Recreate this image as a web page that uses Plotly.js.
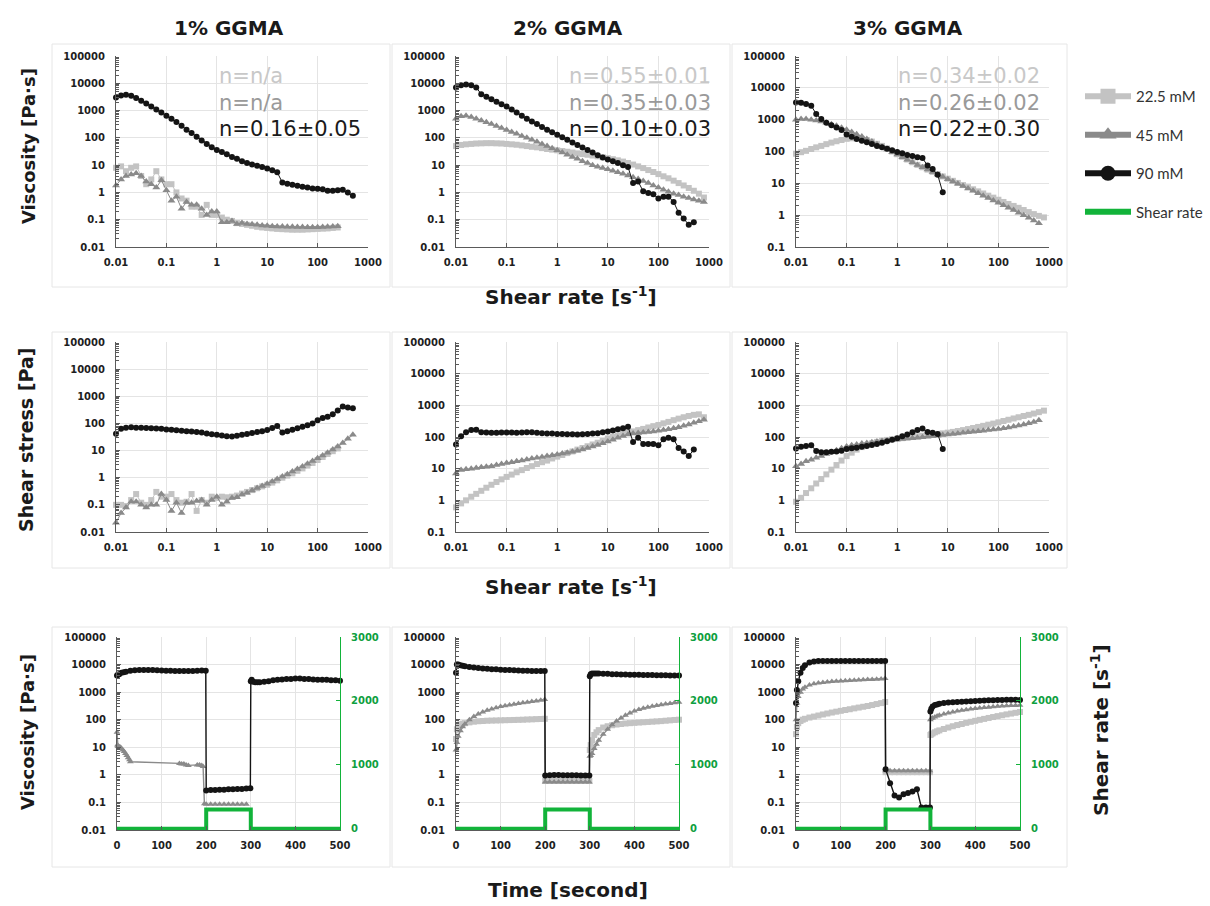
<!DOCTYPE html>
<html><head><meta charset="utf-8">
<script src="https://cdn.plot.ly/plotly-3.0.1.min.js"></script>
<style>html,body{margin:0;padding:0;background:#fff}</style>
</head><body><div id="chart" style="width:1210px;height:906px"></div>
<script>
// ---------------- DATA ----------------
const COL_TITLES = ['1% GGMA','2% GGMA','3% GGMA'];
const SERIES_NAMES = ['22.5 mM','45 mM','90 mM','Shear rate'];
const N_22 = ['n=n/a','n=0.55±0.01','n=0.34±0.02'];
const N_45 = ['n=n/a','n=0.35±0.03','n=0.26±0.02'];
const N_90 = ['n=0.16±0.05','n=0.10±0.03','n=0.22±0.30'];

const X_TICKS = [0.01,0.1,1,10,100,1000];
const X_TICK_TEXT = ['0.01','0.1','1','10','100','1000'];
const Y_TICKS = [0.01,0.1,1,10,100,1000,10000,100000];
const Y_TICK_TEXT = ['0.01','0.1','1','10','100','1000','10000','100000'];
const T_TICKS = [0,100,200,300,400,500];
const T_TICK_TEXT = ['0','100','200','300','400','500'];
const R_TICKS = [0,1000,2000,3000];
const R_TICK_TEXT = ['0','1000','2000','3000'];

// shear rate [1/s] of the sweeps
const RATE = [0.01,0.0126,0.0158,0.02,0.0251,0.0316,0.0398,0.0501,0.0631,0.0794,
  0.1,0.126,0.158,0.2,0.251,0.316,0.398,0.501,0.631,0.794,
  1,1.26,1.58,2,2.51,3.16,3.98,5.01,6.31,7.94,
  10,12.6,15.8,20,25.1,31.6,39.8,50.1,63.1,79.4,
  100,126,158,200,251,316,398,501,631,794];

// viscosity [Pa.s] vs shear rate
const VISC_1_22 = [8,9,6,8,9,4,2,3,6,3, 2,2,1,0.6,0.5,0.3,0.3,0.15,0.35,0.15, 0.15,0.12,0.1,0.09,0.075,0.07,0.065,0.06,0.055,0.052, 0.05,0.048,0.046,0.045,0.044,0.043,0.043,0.043,0.044,0.045, 0.046,0.047,0.048,0.05,0.052];
const VISC_1_45 = [1.8,3,4,4.5,5,4,2.5,2,1.5,2.8, 1.2,0.5,0.7,0.25,0.45,0.35,0.35,0.25,0.15,0.2, 0.2,0.08,0.08,0.09,0.07,0.075,0.07,0.068,0.065,0.062, 0.06,0.058,0.057,0.056,0.055,0.055,0.054,0.054,0.053,0.053, 0.053,0.054,0.055,0.056,0.058];
const VISC_1_90 = [3000,3600,3800,3500,2900,2300,1800,1400,1100,850, 650,500,380,280,200,150,110,80,60,45, 36,30,25,20,17,14,12,10.5,9.5,8.5, 7.5,6.5,5.5,2.3,2.1,1.9,1.75,1.6,1.5,1.4, 1.35,1.3,1.15,1.15,1.2,1.25,1.0,0.75];

const VISC_2_22 = [50,55,58,60,62,63,64,64,63,62, 60,58,56,53,50,47,45,42,39,37, 35,33,31,29,27,25.5,24,22.5,21,19.5, 18,16.5,15,13.5,12,10.5,9,7.8,6.6,5.6, 4.7,3.9,3.3,2.7,2.2,1.8,1.45,1.15,0.9,0.65];
const VISC_2_45 = [500,620,650,580,500,430,370,320,270,230, 195,165,140,118,100,85,72,60,50,42, 35,29,24,20,17,14,12,10,8.8,7.8, 7,6.2,5.5,4.8,4.2,3.6,3.1,2.6,2.2,1.8, 1.5,1.25,1.05,0.9,0.8,0.7,0.62,0.55,0.5,0.45];
const VISC_2_90 = [7000,8500,9000,8500,7000,4000,3200,2600,2100,1700, 1400,1100,850,650,500,400,320,250,200,160, 130,105,85,68,55,44,36,29,23,19, 16,14,12,10,8.5,2.2,2.5,1.1,0.95,0.85, 0.6,0.7,0.7,0.45,0.18,0.11,0.066,0.08];

const VISC_3_22 = [85,95,105,120,135,150,170,190,210,230, 250,260,260,250,230,205,175,150,125,100, 82,68,56,46,38,32,27,23,19.5,16.5, 14,12,10.3,8.8,7.6,6.5,5.6,4.8,4.1,3.55, 3.05,2.6,2.25,1.95,1.7,1.45,1.25,1.08,0.95,0.85];
const VISC_3_45 = [1000,1050,1050,1000,950,880,800,720,640,560, 480,410,350,295,245,205,170,140,115,95, 80,66,55,46,38,32,27,22.5,19,16, 13.5,11.5,9.7,8.2,6.9,5.8,4.9,4.1,3.45,2.9, 2.45,2.05,1.72,1.45,1.2,1.0,0.83,0.68,0.56];
const VISC_3_90 = [3470,3400,3100,2750,1500,1040,800,670,570,470, 345,293,247,219,195,171,148,135,123,109, 97,88,78,72,66,62,36,28,18.5,5.2];

// shear stress [Pa] vs shear rate
const STRESS_1_22 = [0.1,0.1,0.09,0.15,0.25,0.12,0.1,0.15,0.3,0.2, 0.2,0.25,0.15,0.12,0.13,0.25,0.06,0.15,0.12,0.2, 0.18,0.2,0.19,0.2,0.22,0.26,0.3,0.35,0.41,0.48, 0.55,0.66,0.8,1.0,1.2,1.45,1.8,2.2,2.8,3.5, 4.5,5.8,7.5,9.5,12];
const STRESS_1_45 = [0.022,0.05,0.08,0.13,0.13,0.1,0.08,0.1,0.1,0.25, 0.15,0.06,0.12,0.05,0.12,0.12,0.14,0.15,0.1,0.15, 0.2,0.1,0.13,0.18,0.19,0.24,0.28,0.34,0.42,0.5, 0.6,0.73,0.9,1.1,1.35,1.7,2.1,2.6,3.3,4.1, 5.2,6.6,8.4,11,14,19,27,38];
const STRESS_1_90 = [42,64,70,72,70,69,68,66,65,64, 60,58,56,54,52,50,48,46,43,40, 38,36,34,33,35,38,41,44,48,52, 57,68,80,46,52,58,66,75,85,100, 130,160,175,220,300,420,390,360];

const STRESS_2_22 = [0.6,0.8,1.0,1.3,1.6,2.0,2.5,3.1,3.8,4.6, 5.5,6.5,7.7,9,10.5,12,14,16,18,21, 24,27,31,35,40,45,51,58,66,75, 90,100,112,125,138,150,165,180,200,220, 240,270,300,340,380,420,460,500,520,420];
const STRESS_2_45 = [7,9,9.5,10,10.5,11,11.5,12,13,14, 15,16,17,18,19.5,21,22,23.5,25,26.5, 28,30,32,34,37,40,45,50,56,63, 72,82,95,108,120,128,134,139,144,150, 158,166,176,190,205,225,250,280,315,350];
const STRESS_2_90 = [58,105,140,165,170,140,138,137,137,138, 138,138,137,138,140,140,135,132,130,128, 125,124,122,122,121,122,125,128,132,140, 150,160,175,190,210,70,95,60,60,60, 55,85,95,85,45,35,25,40];

const STRESS_3_22 = [0.9,1.2,1.7,2.4,3.4,4.7,6.6,9.3,13,18, 25,32,40,48,56,63,70,76,81,85, 88,92,96,100,105,110,115,120,125,130, 137,145,155,165,178,192,208,225,245,265, 290,320,350,385,420,460,500,550,610,680];
const STRESS_3_45 = [12,14,17,19,22,25,29,33,38,44, 50,55,58,62,65,68,72,75,78,80, 83,86,89,92,95,98,102,106,110,115, 120,125,130,135,140,146,152,158,165,172, 180,190,200,215,230,250,270,300,340];
const STRESS_3_90 = [43,49,52,55,36,33,33,34,35,37, 42,44,46,49,52,56,60,66,73,82, 92,105,120,140,165,185,145,135,125,42];

// time sweeps [s]
const TIME = [0,2,5,10,15,20,30,40,50,60,70,80,90,100,110,120,130,140,150,160,170,180,190,199,
  200,210,220,230,240,250,260,270,280,290,299,
  300,302,305,310,315,320,330,340,350,360,370,380,390,400,410,420,430,440,450,460,470,480,490,500];
const TIME_1_45 = [0,1,2,3,5,8,10,13,16,19,22,25,28,30,140,145,150,155,160,180,185,190,193,196,200,210,220,230,240,250,260,270,280,290];

const TV_1_45 = [35,12,11,11,10.5,10,9,8,7,6,5,4.2,3.5,3, 2.6,2.5,2.5,2.3,2.2, 2.3,2.3,2.2,2.0,0.09, 0.085,0.085,0.085,0.085,0.085,0.085,0.085,0.085,0.085,0.085];
const TV_1_90 = [4000,4300,4500,5000,5300,5500,6000,6200,6300,6400,6300,6300,6200,6100,6000,6000,5900,5800,5800,5900,5900,6000,6100,6000,
  0.27,0.28,0.28,0.29,0.29,0.3,0.3,0.31,0.31,0.32,0.33,
  2500,2800,2400,2300,2300,2300,2400,2500,2700,2800,2900,3000,3000,3100,3100,3000,3000,2900,2800,2800,2800,2700,2700,2600];

const TV_2_22 = [20,45,60,68,72,75,80,85,88,90,92,93,94,95,96,97,98,99,100,102,103,105,106,108,
  0.6,0.6,0.6,0.6,0.6,0.6,0.6,0.6,0.6,0.6,0.6,
  8,12,18,28,35,42,52,58,63,67,70,73,75,77,79,81,83,85,87,89,92,95,98,100];
const TV_2_45 = [8,15,25,40,55,70,100,130,160,190,220,245,270,300,320,345,365,385,410,430,455,480,510,540,
  0.55,0.55,0.55,0.55,0.55,0.55,0.55,0.55,0.55,0.55,0.55,
  4.7,5,6,9,13,18,30,45,65,90,115,145,175,205,235,260,285,310,330,350,370,390,410,430];
const TV_2_90 = [5000,10000,10000,9500,9000,8700,8200,7800,7500,7200,7000,6800,6700,6500,6400,6300,6200,6100,6000,6000,5900,5900,5800,5800,
  0.95,0.97,0.98,0.98,0.97,0.97,0.96,0.96,0.95,0.95,0.95,
  3800,4500,4700,4700,4700,4700,4600,4600,4500,4500,4400,4400,4300,4300,4300,4200,4200,4200,4100,4100,4100,4000,4000,4000];

const TV_3_22 = [30,55,75,90,100,108,120,130,142,155,168,182,196,210,225,240,258,276,295,315,340,370,400,440,
  1.25,1.25,1.25,1.25,1.25,1.25,1.25,1.25,1.25,1.25,1.25,
  28,30,32,35,38,41,46,52,58,64,70,77,84,91,99,107,116,125,135,145,156,167,178,190];
const TV_3_45 = [100,400,700,1000,1300,1500,1800,2000,2150,2250,2350,2450,2500,2550,2600,2650,2700,2750,2800,2850,2900,2950,3000,3100,
  1.4,1.4,1.4,1.4,1.4,1.4,1.4,1.4,1.4,1.4,1.4,
  100,110,115,125,135,145,160,175,190,205,220,232,245,255,265,275,285,295,305,312,320,325,330,335];
const TV_3_90 = [400,1200,2500,5000,7500,9500,12000,13000,13500,13500,13500,13500,13500,13500,13500,13500,13500,13500,13500,13500,13500,13500,13500,13500,
  1.6,0.5,0.18,0.15,0.2,0.22,0.25,0.3,0.065,0.065,0.065,
  200,250,300,340,360,380,400,420,430,440,450,460,470,480,490,500,505,510,515,520,525,530,530,520];

// applied shear rate [1/s]
const SR_TIME = [0,200,200,300,300,500];
const SR_VALUE = [0,0,300,300,0,0];

// ---------------- STYLE / LAYOUT ----------------
const W = 1210, H = 906;
const px = v => v / W, py = v => 1 - v / H;
const C22 = '#c3c3c3', C45 = '#8a8a8a', C90 = '#141414', CG = '#12b33a', CGT = '#0ea040';
const AXC = '#5a5a5a', GRID = '#e4e4e4';
const TF = {family:'DejaVu Sans', size:10, color:'#1e1e1e', weight:'bold'};

const STY = {
  c22:{color:C22, symbol:'square', size:6},
  c45:{color:C45, symbol:'triangle-up', size:7},
  c90:{color:C90, symbol:'circle', size:6}
};

const traces = [];
function sweep(x, y, s, xa, ya, msize, lw) {
  traces.push({x:x.slice(0, y.length), y:y, xaxis:xa, yaxis:ya, type:'scatter', mode:'lines+markers',
    line:{color:s.color, width:lw||1}, marker:{color:s.color, symbol:s.symbol, size:msize||s.size, line:{width:0}},
    showlegend:false, cliponaxis:false, hoverinfo:'skip'});
}

// top row
sweep(RATE, VISC_1_22, STY.c22, 'x', 'y');
sweep(RATE, VISC_1_45, STY.c45, 'x', 'y');
sweep(RATE, VISC_1_90, STY.c90, 'x', 'y');
sweep(RATE, VISC_2_22, STY.c22, 'x2', 'y2');
sweep(RATE, VISC_2_45, STY.c45, 'x2', 'y2');
sweep(RATE, VISC_2_90, STY.c90, 'x2', 'y2');
sweep(RATE, VISC_3_22, STY.c22, 'x3', 'y3');
sweep(RATE, VISC_3_45, STY.c45, 'x3', 'y3');
sweep(RATE, VISC_3_90, STY.c90, 'x3', 'y3');
// middle row
sweep(RATE, STRESS_1_22, STY.c22, 'x4', 'y4');
sweep(RATE, STRESS_1_45, STY.c45, 'x4', 'y4');
sweep(RATE, STRESS_1_90, STY.c90, 'x4', 'y4');
sweep(RATE, STRESS_2_22, STY.c22, 'x5', 'y5');
sweep(RATE, STRESS_2_45, STY.c45, 'x5', 'y5');
sweep(RATE, STRESS_2_90, STY.c90, 'x5', 'y5');
sweep(RATE, STRESS_3_22, STY.c22, 'x6', 'y6');
sweep(RATE, STRESS_3_45, STY.c45, 'x6', 'y6');
sweep(RATE, STRESS_3_90, STY.c90, 'x6', 'y6');
// bottom row
sweep(TIME_1_45, TV_1_45, STY.c45, 'x7', 'y7', 6, 1.4);
sweep(TIME, TV_1_90, STY.c90, 'x7', 'y7', 6, 1.4);
sweep(TIME, TV_2_22, STY.c22, 'x8', 'y8', 6, 1.4);
sweep(TIME, TV_2_45, STY.c45, 'x8', 'y8', 6, 1.4);
sweep(TIME, TV_2_90, STY.c90, 'x8', 'y8', 6, 1.4);
sweep(TIME, TV_3_22, STY.c22, 'x9', 'y9', 6, 1.4);
sweep(TIME, TV_3_45, STY.c45, 'x9', 'y9', 6, 1.4);
sweep(TIME, TV_3_90, STY.c90, 'x9', 'y9', 6, 1.4);
[['x7','y10'],['x8','y11'],['x9','y12']].forEach(([xa,ya]) => {
  traces.push({x:SR_TIME, y:SR_VALUE, xaxis:xa, yaxis:ya, type:'scatter', mode:'lines',
    line:{color:CG, width:4}, showlegend:false, cliponaxis:false, hoverinfo:'skip'});
});
// legend entries (no data of their own)
[[SERIES_NAMES[0], STY.c22],[SERIES_NAMES[1], STY.c45],[SERIES_NAMES[2], STY.c90]].forEach(([nm,s],i) => {
  traces.push({x:[null], y:[null], xaxis:'x', yaxis:'y', type:'scatter', mode:'lines+markers', name:nm, legendgroup:'g'+i,
    line:{color:s.color, width:6}, marker:{color:s.color, symbol:s.symbol, size:15}, showlegend:true});
});
traces.push({x:[null], y:[null], xaxis:'x', yaxis:'y', type:'scatter', mode:'lines', name:SERIES_NAMES[3], legendgroup:'g3',
  line:{color:CG, width:6}, showlegend:true});

// axes
const COLS_X = [[116,368],[456,709],[796,1049]];
const COLS_XB = [[117,340],[456,679],[796,1020]];
const ROW_Y = [[56,247],[342,532],[637,830]];
const LOW = [[-2,-2,-1],[-2,-1,-1]];
const layout = {width:W, height:H, margin:{l:0,r:0,t:0,b:0}, paper_bgcolor:'#fff', plot_bgcolor:'rgba(0,0,0,0)',
  showlegend:true, hovermode:false,
  legend:{x:px(1080), y:py(80), xanchor:'left', yanchor:'top', font:{family:'Lato', size:15, color:'#333'},
    tracegroupgap:16, itemwidth:46, bgcolor:'rgba(0,0,0,0)', traceorder:'grouped'},
  annotations:[], shapes:[]};

function common(extra) {
  return Object.assign({showgrid:true, gridcolor:GRID, gridwidth:1, showline:true, linecolor:AXC, linewidth:1,
    ticks:'inside', ticklen:4, tickcolor:AXC, tickfont:TF, zeroline:false, fixedrange:true, ticklabelstandoff:6}, extra);
}
function key(prefix, n) { return n === 1 ? prefix : prefix + n; }

for (let r = 0; r < 3; r++) {
  for (let c = 0; c < 3; c++) {
    const n = r * 3 + c + 1;
    const yd = [py(ROW_Y[r][1]), py(ROW_Y[r][0])];
    if (r < 2) {
      layout[key('xaxis', n)] = common({type:'log', domain:[px(COLS_X[c][0]), px(COLS_X[c][1])], anchor:key('y', n),
        range:[-2,3], tickmode:'array', tickvals:X_TICKS, ticktext:X_TICK_TEXT});
      const lo = LOW[r][c];
      const keep = Y_TICKS.map((v,i)=>i).filter(i => Y_TICKS[i] >= Math.pow(10, lo) * 0.999);
      layout[key('yaxis', n)] = common({type:'log', domain:yd, anchor:key('x', n), range:[lo,5], tickmode:'array',
        tickvals:keep.map(i=>Y_TICKS[i]), ticktext:keep.map(i=>Y_TICK_TEXT[i]), ticklabelstandoff:8,
        minor:{ticks:'inside', ticklen:3, tickcolor:AXC, dtick:'D1', showgrid:false}});
    } else {
      layout[key('xaxis', n)] = common({type:'linear', domain:[px(COLS_XB[c][0]), px(COLS_XB[c][1])], anchor:key('y', n),
        range:[0,500], tickmode:'array', tickvals:T_TICKS, ticktext:T_TICK_TEXT});
      layout[key('yaxis', n)] = common({type:'log', domain:yd, anchor:key('x', n), range:[-2,5], tickmode:'array',
        tickvals:Y_TICKS, ticktext:Y_TICK_TEXT, ticklabelstandoff:8,
        minor:{ticks:'inside', ticklen:3, tickcolor:AXC, dtick:'D1', showgrid:false}});
      layout['yaxis' + (n + 3)] = {type:'linear', overlaying:'y' + n, side:'right', anchor:'x' + n, range:[-20,3000],
        tickmode:'array', tickvals:R_TICKS, ticktext:R_TICK_TEXT, showgrid:false, zeroline:false, showline:true,
        linecolor:CG, linewidth:1, ticks:'inside', ticklen:4, tickcolor:CG, fixedrange:true, ticklabelstandoff:8,
        tickfont:{family:'DejaVu Sans', size:10, color:CGT, weight:'bold'}};
    }
  }
}

// panel frames
const FR_X = [[52,390],[392,730],[732,1067]];
const FR_Y = [[44,287],[332,568],[627,867]];
FR_Y.forEach(fy => FR_X.forEach(fx => {
  layout.shapes.push({type:'rect', xref:'paper', yref:'paper', x0:px(fx[0]), x1:px(fx[1]), y0:py(fy[1]), y1:py(fy[0]),
    line:{color:'#e6e6e6', width:1}, layer:'below'});
}));

// text
function txt(x, y, text, size, opts) {
  layout.annotations.push(Object.assign({xref:'paper', yref:'paper', x:px(x), y:py(y), text:text, showarrow:false,
    font:{family:'DejaVu Sans', size:size, color:'#1a1a1a', weight:'bold'}, xanchor:'center', yanchor:'middle'}, opts || {}));
}
[229,568,908].forEach((x,i) => txt(x, 28, COL_TITLES[i], 20));
const NX = [217,567,896];
NX.forEach((x,i) => {
  txt(x, 76, N_22[i], 21, {xanchor:'left', font:{family:'DejaVu Sans', size:21, color:'#c8c8c8'}});
  txt(x, 103, N_45[i], 21, {xanchor:'left', font:{family:'DejaVu Sans', size:21, color:'#9a9a9a'}});
  txt(x, 129, N_90[i], 21, {xanchor:'left', font:{family:'DejaVu Sans', size:21, color:'#1a1a1a'}});
});
txt(29, 146, 'Viscosity [Pa·s]', 18, {textangle:-90});
txt(26, 440, 'Shear stress [Pa]', 19, {textangle:-90});
txt(27, 732, 'Viscosity [Pa·s]', 18, {textangle:-90});
txt(1100, 730, 'Shear rate [s<sup>-1</sup>]', 20, {textangle:-90});
txt(571, 296, 'Shear rate [s<sup>-1</sup>]', 20);
txt(571, 586, 'Shear rate [s<sup>-1</sup>]', 20);
txt(568, 890, 'Time [second]', 20);

Plotly.newPlot('chart', traces, layout, {staticPlot:true, displayModeBar:false});
</script>
</body></html>
